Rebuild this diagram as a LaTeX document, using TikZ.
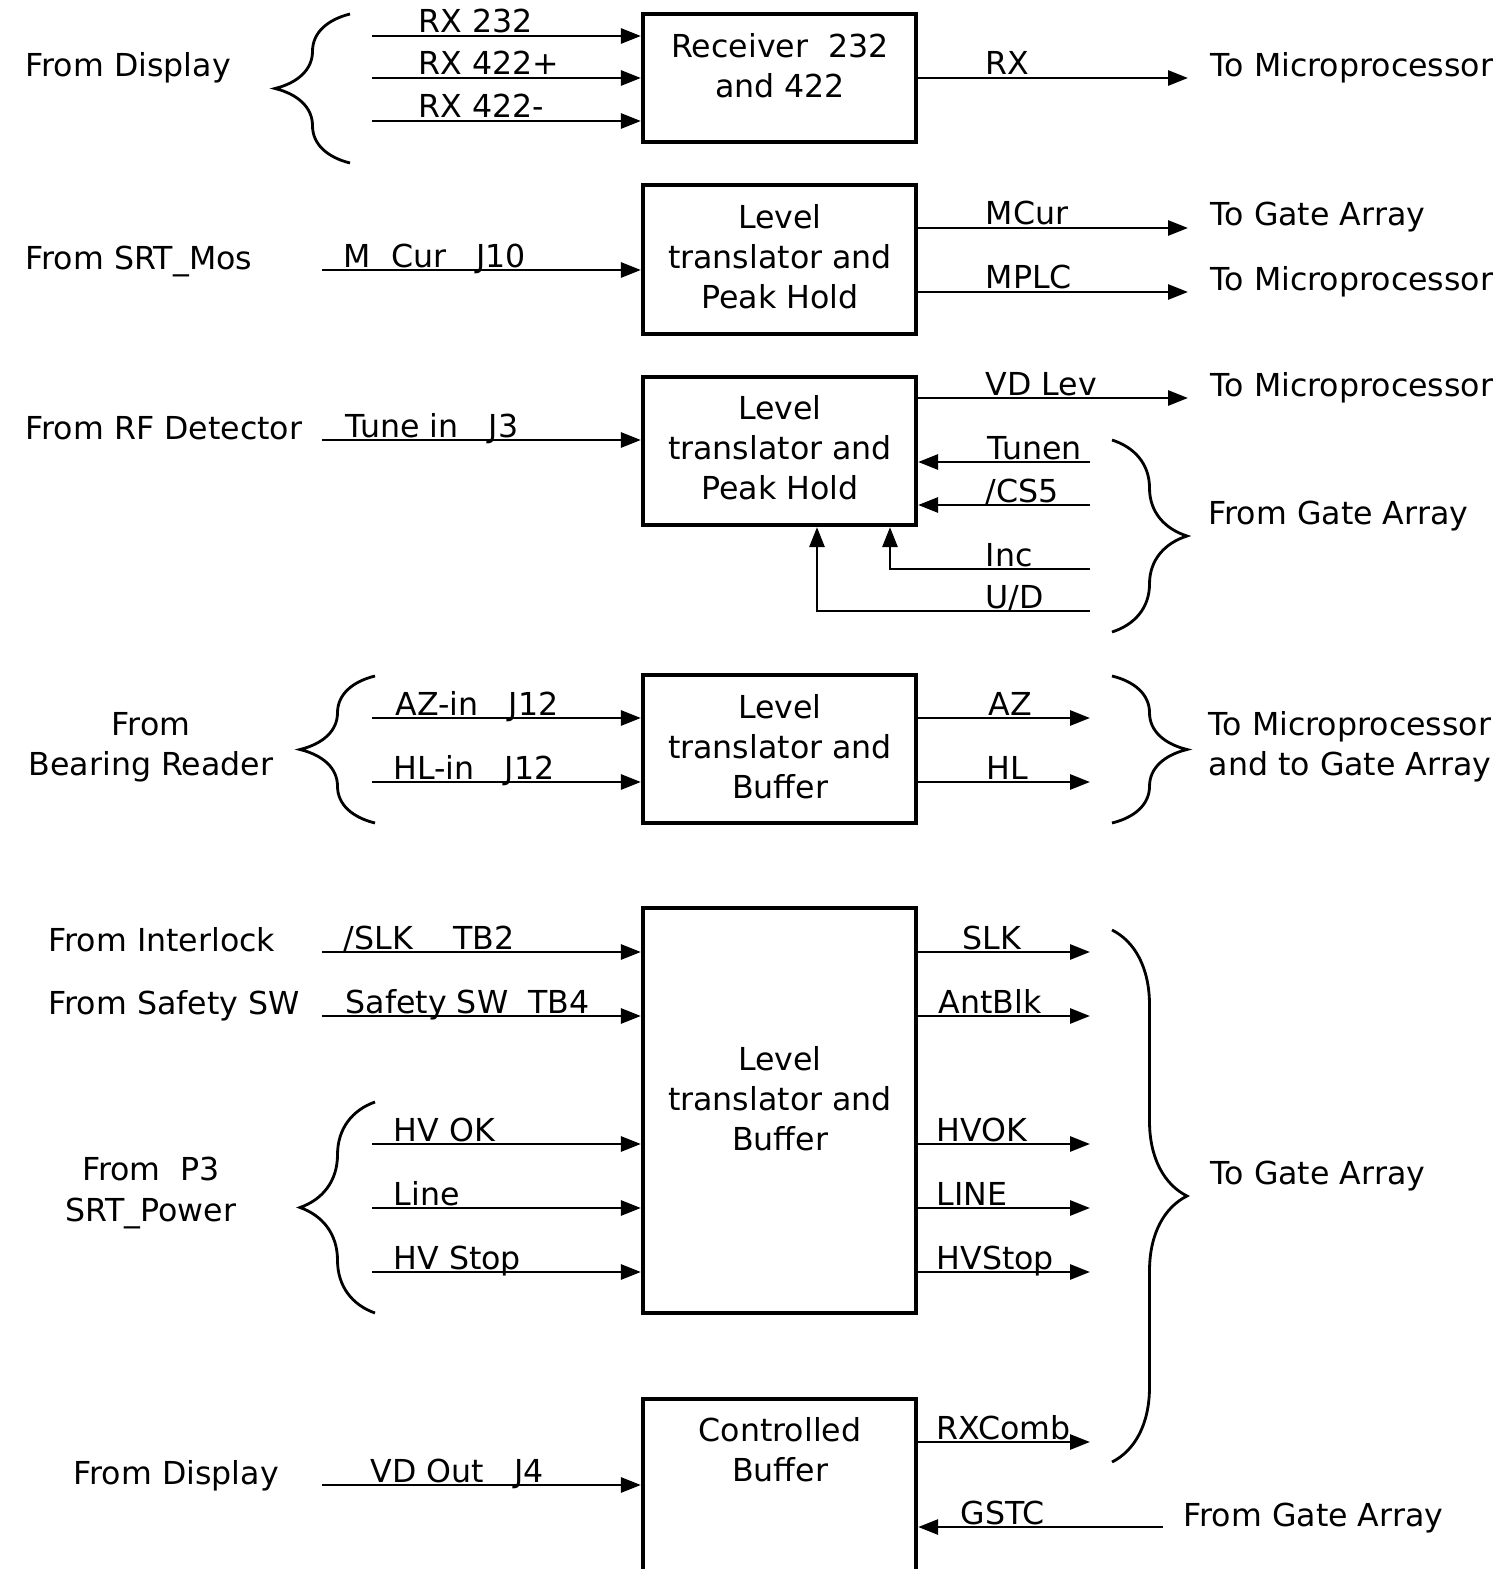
\documentclass[tikz,border=0pt]{standalone}
\usepackage{fontspec}
\setmainfont{DejaVu Sans}
\usepackage{tikz}
\usetikzlibrary{arrows.meta,decorations.pathreplacing}

\tikzset{
  blk/.style={draw, line width=1.2pt, inner sep=0pt, minimum width=27.3mm},
  sig/.style={line width=0.8pt, -{Triangle[length=2mm,width=1.5mm]}},
  lbl/.style={anchor=base west, inner sep=0pt},
  brc/.style={decorate, decoration={brace, amplitude=7.5mm}, line width=0.8pt},
  every node/.style={font=\fontsize{9}{11.4}\selectfont}
}

\begin{document}
\begin{tikzpicture}[x=0.1mm, y=-0.1mm]
 \useasboundingbox (0,0) rectangle (1506,1569);

 % blocks
 \node[blk, minimum height=12.8mm] (rcv)  at (779.5,78)    {};
 \node[blk, minimum height=14.9mm] (pk1)  at (779.5,259.5) {};
 \node[blk, minimum height=14.8mm] (pk2)  at (779.5,451)   {};
 \node[blk, minimum height=14.8mm] (buf1) at (779.5,749)   {};
 \node[blk, minimum height=40.5mm] (buf2) at (779.5,1110.5) {};
 \node[blk, minimum height=20.1mm] (cbuf) at (779.5,1499.5) {};

 \node[align=center] (rcvt)  at (780,66)   {Receiver\ \ 232\\and 422};
 \node[align=center] (pk1t)  at (780,257)  {Level\\translator and\\Peak Hold};
 \node[align=center] (pk2t)  at (780,448)  {Level\\translator and\\Peak Hold};
 \node[align=center] (buf1t) at (780,747)  {Level\\translator and\\Buffer};
 \node[align=center] (buf2t) at (780,1099) {Level\\translator and\\Buffer};
 \node[align=center] (cbuft) at (780,1450) {Controlled\\Buffer};

 % receiver
 \node[lbl] (fdisp) at (25,77) {From Display};
 \draw[brc] (350,163) -- (350,14);
 \coordinate (rx1) at (372,36);
 \coordinate (rx2) at (372,78);
 \coordinate (rx3) at (372,121);
 \draw[sig] (rx1) -- (rx1 -| rcv.west);
 \draw[sig] (rx2) -- (rx2 -| rcv.west);
 \draw[sig] (rx3) -- (rx3 -| rcv.west);
 \node[lbl] (rx1l) at (418,33)  {RX 232};
 \node[lbl] (rx2l) at (418,75)  {RX 422+};
 \node[lbl] (rx3l) at (418,118) {RX 422-};
 \coordinate (rxo) at (1188,78);
 \draw[sig] (rxo -| rcv.east) -- (rxo);
 \node[lbl] (rxol) at (985,75) {RX};
 \node[lbl] (tmp1) at (1210,77) {To Microprocessor};

 % peak hold 1
 \node[lbl] (fmos) at (25,269) {From SRT\_Mos};
 \coordinate (mcur) at (322,270);
 \draw[sig] (mcur) -- (mcur -| pk1.west);
 \node[lbl] (mcurl) at (343,267) {M\ \ Cur\ \ \ J10};
 \coordinate (mcuro) at (1188,228);
 \coordinate (mplc) at (1188,292);
 \draw[sig] (mcuro -| pk1.east) -- (mcuro);
 \draw[sig] (mplc -| pk1.east) -- (mplc);
 \node[lbl] (mcurol) at (985,225) {MCur};
 \node[lbl] (mplcl) at (985,289) {MPLC};
 \node[lbl] (tga1) at (1210,226) {To Gate Array};
 \node[lbl] (tmp2) at (1210,290) {To Microprocessor};

 % peak hold 2
 \node[lbl] (frf) at (25,439) {From RF Detector};
 \coordinate (tune) at (322,440);
 \draw[sig] (tune) -- (tune -| pk2.west);
 \node[lbl] (tunel) at (345,437) {Tune in\ \ \ J3};
 \coordinate (vdlev) at (1188,398);
 \draw[sig] (vdlev -| pk2.east) -- (vdlev);
 \node[lbl] (vdlevl) at (985,395) {VD Lev};
 \node[lbl] (tmp3) at (1210,396) {To Microprocessor};
 \coordinate (tunen) at (1090,462);
 \coordinate (cs5) at (1090,505);
 \coordinate (inc) at (1090,569);
 \coordinate (ud) at (1090,611);
 \coordinate (incx) at (890,0);
 \coordinate (udx) at (817,0);
 \draw[sig] (tunen) -- (tunen -| pk2.east);
 \draw[sig] (cs5) -- (cs5 -| pk2.east);
 \draw[sig] (inc) -| (incx |- pk2.south);
 \draw[sig] (ud) -| (udx |- pk2.south);
 \node[lbl] (tunenl) at (987,459) {Tunen};
 \node[lbl] (cs5l) at (985,502) {/CS5};
 \node[lbl] (incl) at (985,566) {Inc};
 \node[lbl] (udl) at (985,608) {U/D};
 \draw[brc] (1112,440) -- (1112,632);
 \node[lbl] (fga1) at (1208,524) {From Gate Array};

 % bearing buffer
 \node[align=center] (fbear) at (151,747) {From\\Bearing Reader};
 \draw[brc] (375,823) -- (375,676);
 \coordinate (azin) at (372,718);
 \coordinate (hlin) at (372,782);
 \draw[sig] (azin) -- (azin -| buf1.west);
 \draw[sig] (hlin) -- (hlin -| buf1.west);
 \node[lbl] (azinl) at (395,715) {AZ-in\ \ \ J12};
 \node[lbl] (hlinl) at (393,779) {HL-in\ \ \ J12};
 \coordinate (az) at (1090,718);
 \coordinate (hl) at (1090,782);
 \draw[sig] (az -| buf1.east) -- (az);
 \draw[sig] (hl -| buf1.east) -- (hl);
 \node[lbl] (azl) at (988,715) {AZ};
 \node[lbl] (hll) at (986,779) {HL};
 \draw[brc] (1112,676) -- (1112,823);
 \node[align=left, anchor=west, inner sep=0pt] (tmpga) at (1208,747) {To Microprocessor\\and to Gate Array};

 % interlock buffer
 \node[lbl] (fint) at (48,951) {From Interlock};
 \node[lbl] (fsaf) at (48,1014) {From Safety SW};
 \coordinate (slkin) at (322,952);
 \coordinate (safin) at (322,1016);
 \draw[sig] (slkin) -- (slkin -| buf2.west);
 \draw[sig] (safin) -- (safin -| buf2.west);
 \node[lbl] (slkinl) at (343,949) {/SLK\ \ \ \ TB2};
 \node[lbl] (safinl) at (345,1013) {Safety SW\ \ TB4};
 \node[align=center] (fp3) at (151,1193) {From\ \ P3\\SRT\_Power};
 \draw[brc] (375,1313) -- (375,1102);
 \coordinate (hvok) at (372,1144);
 \coordinate (line) at (372,1208);
 \coordinate (hvstop) at (372,1272);
 \draw[sig] (hvok) -- (hvok -| buf2.west);
 \draw[sig] (line) -- (line -| buf2.west);
 \draw[sig] (hvstop) -- (hvstop -| buf2.west);
 \node[lbl] (hvokl) at (393,1141) {HV OK};
 \node[lbl] (linel) at (393,1205) {Line};
 \node[lbl] (hvstopl) at (393,1269) {HV Stop};
 \coordinate (slk) at (1090,952);
 \coordinate (antblk) at (1090,1016);
 \coordinate (hvoko) at (1090,1144);
 \coordinate (lineo) at (1090,1208);
 \coordinate (hvstopo) at (1090,1272);
 \draw[sig] (slk -| buf2.east) -- (slk);
 \draw[sig] (antblk -| buf2.east) -- (antblk);
 \draw[sig] (hvoko -| buf2.east) -- (hvoko);
 \draw[sig] (lineo -| buf2.east) -- (lineo);
 \draw[sig] (hvstopo -| buf2.east) -- (hvstopo);
 \node[lbl] (slkl) at (962,949) {SLK};
 \node[lbl] (antblkl) at (938,1013) {AntBlk};
 \node[lbl] (hvokol) at (936,1141) {HVOK};
 \node[lbl] (lineol) at (936,1205) {LINE};
 \node[lbl] (hvstopol) at (936,1269) {HVStop};
 \draw[brc] (1112,930) -- (1112,1462);
 \node[lbl] (tga2) at (1210,1184) {To Gate Array};

 % controlled buffer
 \node[lbl] (fdisp2) at (73,1484) {From Display};
 \coordinate (vdout) at (322,1485);
 \draw[sig] (vdout) -- (vdout -| cbuf.west);
 \node[lbl] (vdoutl) at (370,1482) {VD Out\ \ \ J4};
 \coordinate (rxcomb) at (1090,1442);
 \draw[sig] (rxcomb -| cbuf.east) -- (rxcomb);
 \node[lbl] (rxcombl) at (936,1439) {RXComb};
 \coordinate (gstc) at (1163,1527);
 \draw[sig] (gstc) -- (gstc -| cbuf.east);
 \node[lbl] (gstcl) at (960,1524) {GSTC};
 \node[lbl] (fga2) at (1183,1526) {From Gate Array};
\end{tikzpicture}
\end{document}
